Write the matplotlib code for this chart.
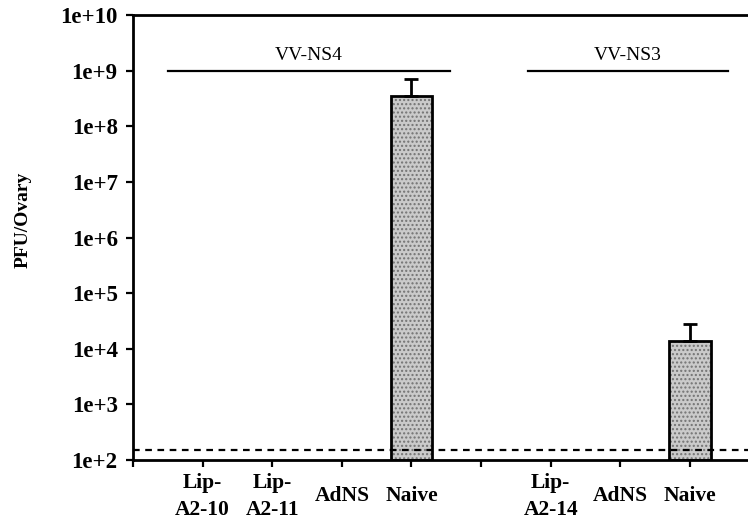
import numpy as np
import matplotlib
matplotlib.use("Agg")
import matplotlib.pyplot as plt
from matplotlib.ticker import FixedLocator, FuncFormatter

# ---- data ----
categories = ["Lip-\nA2-10", "Lip-\nA2-11", "AdNS", "Naive", "", "Lip-\nA2-14", "AdNS", "Naive"]
values = [np.nan, np.nan, np.nan, 3.5e8, np.nan, np.nan, np.nan, 1.4e4]
err_upper = [np.nan, np.nan, np.nan, 3.6e8, np.nan, np.nan, np.nan, 1.4e4]
detection_limit = 150
group_labels = ["VV-NS4", "VV-NS3"]
group_spans = [(0.5, 4.55), (5.68, 8.55)]
group_level = 1e9
ytick_exps = list(range(2, 11))

serif = ["Liberation Serif", "DejaVu Serif"]
plt.rcParams["font.family"] = serif
plt.rcParams["font.weight"] = "bold"

fig = plt.figure(figsize=(7.48, 5.29), dpi=100)
ax = fig.add_axes([133 / 748, 1 - 460 / 529, 1 - 133 / 748, (460 - 15) / 529])

x = np.arange(1, len(categories) + 1)
base = 10 ** ytick_exps[0]
heights = [v - base if not np.isnan(v) else 0 for v in values]
bars = ax.bar(x, heights, bottom=base, width=0.6, facecolor="#cacaca",
              edgecolor="black", linewidth=2, hatch="....", zorder=2)
for b in bars:
    b._hatch_color = (0.45, 0.45, 0.45, 1.0)
    if b.get_height() == 0:
        b.set_visible(False)

for xi, v, e in zip(x, values, err_upper):
    if not np.isnan(v):
        ax.errorbar([xi], [v], yerr=[[0], [e]], fmt="none", ecolor="black",
                    elinewidth=2, capsize=5, capthick=2, zorder=3)

ax.axhline(detection_limit, color="black", linestyle=(0, (3, 2.5)), linewidth=1.6, zorder=4)

for lab, (a, b) in zip(group_labels, group_spans):
    ax.plot([a, b], [group_level, group_level], color="black", linewidth=1.6, zorder=3)
    ax.text((a + b) / 2, group_level * 1.3, lab, ha="center", va="bottom",
            fontsize=14, fontweight="normal", family=serif)

ax.set_yscale("log")
ax.set_ylim(10 ** ytick_exps[0], 10 ** ytick_exps[-1])
ax.set_xlim(0, 615 / 69.6)
ax.yaxis.set_major_locator(FixedLocator([10.0 ** e for e in ytick_exps]))
ax.yaxis.set_minor_locator(FixedLocator([]))
ax.yaxis.set_major_formatter(FuncFormatter(lambda v, p: "1e+%d" % round(np.log10(v))))
ax.set_xticks(np.arange(0, len(categories) + 1))
ax.set_xticklabels([])
for t in ax.get_yticklabels():
    t.set_fontsize(16.5)
    t.set_fontweight("bold")

for xi, lab in zip(x, categories):
    if lab:
        ax.text(xi, 10 ** 1.35, lab, ha="center", va="center", fontsize=15.5,
                fontweight="bold", linespacing=1.45, transform=ax.transData,
                clip_on=False)

ax.tick_params(axis="both", which="major", direction="out", length=5, width=1.6)
ax.tick_params(axis="y", pad=6)
for s in ["left", "bottom", "top"]:
    ax.spines[s].set_linewidth(2)
ax.spines["right"].set_visible(False)

fig.text(23 / 748, 1 - 220 / 529, "PFU/Ovary", rotation=90, ha="center", va="center",
         fontsize=14, fontweight="bold")

fig.savefig("out.png", dpi=100)
